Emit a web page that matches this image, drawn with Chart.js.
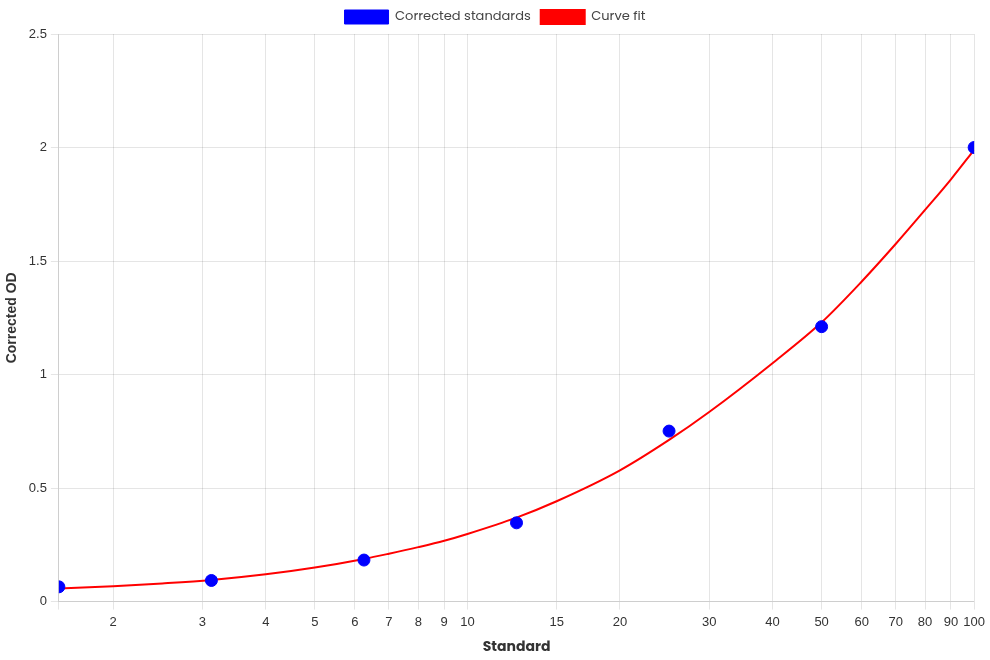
<!DOCTYPE html>
<html>
<head>
<meta charset="utf-8">
<script src="https://cdn.jsdelivr.net/npm/chart.js@4.4.1/dist/chart.umd.min.js"></script>
<style>
  html, body { margin: 0; padding: 0; background: #fff; }
  #wrap { width: 990px; height: 660px; }
</style>
</head>
<body>
<div id="wrap"><canvas id="chart"></canvas></div>
<script>
// measured standards
var stdX = [1.5625, 3.125, 6.25, 12.5, 25, 50, 100];
var stdY = [0.065, 0.093, 0.183, 0.347, 0.751, 1.211, 2.0];

// fitted curve
var fitX = [1.5625, 2, 2.5, 3.125, 4, 5, 6.25, 7, 8, 9, 10, 12.5, 15, 20, 25, 30, 40, 50, 60, 70, 80, 90, 100];
var fitY = [0.058, 0.068, 0.080, 0.095, 0.120, 0.150, 0.188, 0.211, 0.240, 0.268, 0.298, 0.370, 0.442, 0.578, 0.712, 0.835, 1.05, 1.23, 1.41, 1.575, 1.725, 1.86, 1.99];

// x axis ticks
var xTicks = [1.5625, 2, 3, 4, 5, 6, 7, 8, 9, 10, 15, 20, 30, 40, 50, 60, 70, 80, 90, 100];

var toPoints = function(xs, ys) {
    return xs.map(function(x, i) { return {x: x, y: ys[i]}; });
};

var titleFont = "Poppins, Lato, 'Open Sans', sans-serif";
var tickFont = "'Liberation Sans', Arial, sans-serif";

var ctx = document.getElementById('chart').getContext('2d');
var chart = new Chart(ctx, {
    type: 'scatter',
    data: {
        datasets: [{
            label: 'Corrected standards',
            data: toPoints(stdX, stdY),
            backgroundColor: '#0000ff',
            borderColor: '#0000ff',
            pointRadius: 6,
            pointHoverRadius: 7
        }, {
            label: 'Curve fit',
            data: toPoints(fitX, fitY),
            showLine: true,
            backgroundColor: '#ff0000',
            borderColor: '#ff0000',
            borderWidth: 2,
            pointRadius: 0,
            cubicInterpolationMode: 'monotone'
        }]
    },
    options: {
        responsive: true,
        maintainAspectRatio: false,
        animation: false,
        plugins: {
            legend: {
                labels: {
                    color: '#444',
                    font: { family: titleFont, size: 13 },
                    boxWidth: 44,
                    boxHeight: 14
                }
            },
            tooltip: { enabled: false }
        },
        scales: {
            x: {
                type: 'logarithmic',
                min: 1.5625,
                max: 100,
                afterBuildTicks: function(axis) {
                    axis.ticks = xTicks.map(function(v) { return {value: v}; });
                },
                title: {
                    display: true,
                    text: 'Standard',
                    color: '#333',
                    font: { family: titleFont, size: 14, weight: 'bold' }
                },
                ticks: {
                    color: '#333',
                    padding: 5,
                    font: { family: tickFont, size: 13 },
                    autoSkip: false,
                    maxRotation: 0,
                    callback: function(value) {
                        return Number.isInteger(value) ? String(value) : '';
                    }
                }
            },
            y: {
                min: 0,
                max: 2.5,
                title: {
                    display: true,
                    text: 'Corrected OD',
                    color: '#333',
                    font: { family: tickFont, size: 14, weight: 'bold' }
                },
                ticks: {
                    stepSize: 0.5,
                    color: '#333',
                    padding: 4,
                    font: { family: tickFont, size: 13 },
                    callback: function(value) { return String(value); }
                }
            }
        }
    }
});
</script>
</body>
</html>
